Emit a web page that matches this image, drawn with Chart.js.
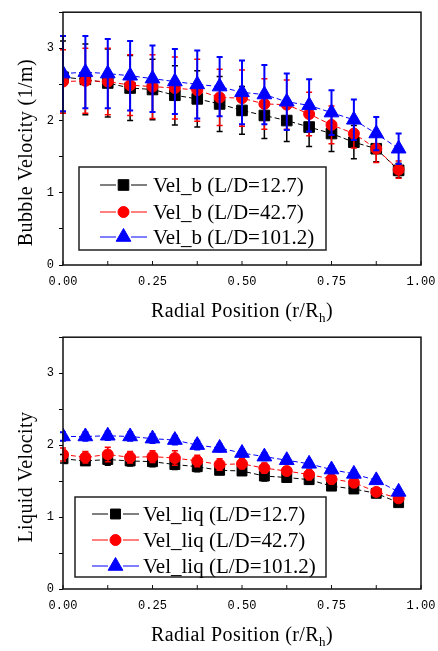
<!DOCTYPE html>
<html>
<head>
<meta charset="utf-8">
<script src="https://cdn.jsdelivr.net/npm/chart.js@4.4.1/dist/chart.umd.min.js"></script>
<style>
body { margin: 0; background: #fff; }
.box { position: relative; width: 438px; }
#top { height: 325px; }
#bot { height: 326px; }
</style>
</head>
<body>
<div class="box" id="top"><canvas id="bubble"></canvas></div>
<div class="box" id="bot"><canvas id="liquid"></canvas></div>
<script>
// radial positions r/Rh
var radialPos = [0, 0.0625, 0.125, 0.1875, 0.25, 0.3125, 0.375, 0.4375, 0.5, 0.5625, 0.625, 0.6875, 0.75, 0.8125, 0.875, 0.9375];
var ldCases = ["L/D=12.7", "L/D=42.7", "L/D=101.2"];
var xTickVals = [0, 0.25, 0.5, 0.75, 1];
var yTickVals = [0, 1, 2, 3];

// bubble velocity
var velB127 = [2.60, 2.57, 2.52, 2.45, 2.43, 2.35, 2.30, 2.23, 2.14, 2.07, 2.00, 1.91, 1.82, 1.70, 1.61, 1.31];
var errB127 = [0.50, 0.49, 0.47, 0.45, 0.42, 0.41, 0.39, 0.38, 0.33, 0.32, 0.29, 0.27, 0.25, 0.23, 0.18, 0.10];
var velB427 = [2.54, 2.55, 2.54, 2.49, 2.47, 2.45, 2.42, 2.32, 2.31, 2.23, 2.22, 2.09, 1.94, 1.82, 1.61, 1.32];
var errB427 = [0.44, 0.45, 0.46, 0.42, 0.44, 0.43, 0.43, 0.39, 0.39, 0.35, 0.34, 0.30, 0.26, 0.20, 0.19, 0.12];
var velB1012 = [2.65, 2.67, 2.65, 2.62, 2.58, 2.54, 2.50, 2.47, 2.39, 2.36, 2.26, 2.21, 2.11, 2.01, 1.82, 1.61];
var errB1012 = [0.52, 0.50, 0.48, 0.48, 0.46, 0.45, 0.47, 0.41, 0.44, 0.41, 0.39, 0.36, 0.31, 0.28, 0.23, 0.21];

// liquid velocity
var velL127 = [1.81, 1.78, 1.80, 1.78, 1.77, 1.73, 1.70, 1.65, 1.64, 1.57, 1.55, 1.52, 1.43, 1.39, 1.33, 1.20];
var errL127 = [0.06, 0.06, 0.08, 0.07, 0.07, 0.07, 0.07, 0.06, 0.06, 0.07, 0.06, 0.06, 0.05, 0.05, 0.05, 0.04];
var velL427 = [1.87, 1.83, 1.87, 1.83, 1.84, 1.82, 1.78, 1.73, 1.74, 1.68, 1.64, 1.59, 1.53, 1.48, 1.35, 1.26];
var errL427 = [0.09, 0.08, 0.10, 0.08, 0.08, 0.10, 0.08, 0.08, 0.07, 0.07, 0.06, 0.07, 0.07, 0.07, 0.05, 0.05];
var velL1012 = [2.12, 2.12, 2.13, 2.12, 2.09, 2.07, 2.00, 1.96, 1.89, 1.84, 1.79, 1.74, 1.66, 1.60, 1.51, 1.35];
var errL1012 = [0.06, 0.06, 0.06, 0.06, 0.06, 0.06, 0.06, 0.05, 0.05, 0.05, 0.05, 0.05, 0.05, 0.05, 0.04, 0.04];

var serif = "'Liberation Serif', 'Times New Roman', serif";

function pts(vals) {
    return vals.map(function (v, i) { return { x: radialPos[i], y: v }; });
}

function isMajor(v, list) {
    return list.some(function (m) { return Math.abs(m - v) < 1e-9; });
}

//error bars under each dataset's own markers
var errorBars = {
    id: 'errorBars',
    beforeDatasetDraw: function (chart, args) {
        var ds = chart.data.datasets[args.index];
        if (!ds.errors) return;
        var ctx = chart.ctx, xs = chart.scales.x, ys = chart.scales.y;
        ctx.save();
        ctx.strokeStyle = ds.borderColor;
        ctx.lineWidth = ds.errWidth;
        ds.data.forEach(function (p, i) {
            var px = xs.getPixelForValue(p.x);
            var top = ys.getPixelForValue(p.y + ds.errors[i]);
            var bot = ys.getPixelForValue(p.y - ds.errors[i]);
            ctx.beginPath();
            ctx.moveTo(px, top); ctx.lineTo(px, bot);
            ctx.moveTo(px - 3, top); ctx.lineTo(px + 3, top);
            ctx.moveTo(px - 3, bot); ctx.lineTo(px + 3, bot);
            ctx.stroke();
        });
        ctx.restore();
    }
};

// frame, inward x ticks, titles, boxed legend
var decor = {
    id: 'decor',
    afterDraw: function (chart) {
        var o = chart.options.plugins.decor;
        var ctx = chart.ctx, a = chart.chartArea, xs = chart.scales.x;
        ctx.save();
        ctx.strokeStyle = '#111';
        ctx.lineWidth = 1.5;
        ctx.strokeRect(a.left, a.top, a.right - a.left, a.bottom - a.top);

        ctx.lineWidth = 1;
        xs.ticks.forEach(function (t) {
            var px = xs.getPixelForValue(t.value);
            ctx.beginPath();
            ctx.moveTo(px, a.bottom); ctx.lineTo(px, a.bottom - 4);
            ctx.stroke();
        });

        ctx.fillStyle = '#000';
        ctx.textBaseline = 'alphabetic';
        ctx.letterSpacing = '0.4px';
        // x title with subscript
        ctx.font = '20px ' + serif;
        var t1 = 'Radial Position (r/R', t3 = ')';
        var w1 = ctx.measureText(t1).width, w3 = ctx.measureText(t3).width;
        ctx.font = '13px ' + serif;
        var w2 = ctx.measureText('h').width;
        var sx = (a.left + a.right) / 2 - (w1 + w2 + w3) / 2;
        var by = a.bottom + 52;
        ctx.font = '20px ' + serif;
        ctx.textAlign = 'left';
        ctx.fillText(t1, sx, by);
        ctx.font = '13px ' + serif;
        ctx.fillText('h', sx + w1, by + 5);
        ctx.font = '20px ' + serif;
        ctx.fillText(t3, sx + w1 + w2, by);

        // y title
        ctx.save();
        ctx.translate(27, (a.top + a.bottom) / 2 + 14);
        ctx.rotate(-Math.PI / 2);
        ctx.textAlign = 'center';
        ctx.textBaseline = 'middle';
        ctx.fillText(o.yTitle, 0, 0);
        ctx.restore();

        // legend box
        ctx.letterSpacing = '0px';
        var L = o.legend;
        ctx.lineWidth = 1.5;
        ctx.strokeStyle = '#222';
        ctx.strokeRect(L.x, L.y, L.w, L.h);
        var order = [2, 1, 0];
        order.forEach(function (di, row) {
            var ds = chart.data.datasets[di];
            var cy = L.rows[row];
            var lx = L.lineX;
            ctx.strokeStyle = ds.borderColor;
            ctx.lineWidth = 1;
            ctx.beginPath();
            ctx.moveTo(lx, cy); ctx.lineTo(lx + 16, cy);
            ctx.moveTo(lx + 31, cy); ctx.lineTo(lx + 47, cy);
            ctx.stroke();
            ctx.fillStyle = ds.borderColor;
            Chart.helpers.drawPoint(ctx, {
                pointStyle: ds.pointStyle, radius: ds.legendRadius, borderWidth: 1, rotation: 0
            }, lx + 23.5, cy);
            ctx.fillStyle = '#000';
            ctx.font = '21px ' + serif;
            ctx.textAlign = 'left';
            ctx.textBaseline = 'middle';
            ctx.fillText(ds.label, L.textX, cy + 1);
        });
        ctx.restore();
    }
};

function makeChart(id, name, vals, errs, yTitle, legendBox, padTop, xHeight, sizes) {
    var colors = ['#000000', '#ff0000', '#0000ff'];
    var shapes = ['rect', 'circle', 'triangle'];
    var datasets = [2, 1, 0].map(function (k) {
        return {
            label: name + ' (' + ldCases[k] + ')',
            data: pts(vals[k]),
            errors: errs[k],
            errWidth: k === 2 ? 2 : 1.5,
            borderColor: colors[k],
            backgroundColor: colors[k],
            pointBackgroundColor: colors[k],
            pointBorderColor: colors[k],
            pointStyle: shapes[k],
            pointRadius: sizes[k],
            legendRadius: sizes[k],
            pointBorderWidth: 1,
            borderWidth: 1,
            borderDash: [5, 3],
            showLine: true,
            fill: false,
            tension: 0
        };
    });
    return new Chart(document.getElementById(id), {
        type: 'scatter',
        data: { datasets: datasets },
        options: {
            responsive: true,
            maintainAspectRatio: false,
            animation: false,
            layout: { padding: { left: 0, right: 17, top: padTop, bottom: 0 } },
            scales: {
                x: {
                    type: 'linear',
                    min: 0, max: 1,
                    afterFit: function (s) { s.height = xHeight; },
                    border: { display: false },
                    grid: { display: false },
                    ticks: {
                        stepSize: 0.125,
                        autoSkip: false,
                        maxRotation: 0,
                        padding: 2,
                        color: '#000',
                        font: { family: "'Liberation Mono', monospace", size: 12 },
                        callback: function (v) { return isMajor(v, xTickVals) ? v.toFixed(2) : ''; }
                    }
                },
                y: {
                    min: 0, max: 3.5,
                    afterFit: function (s) { s.width = 63; },
                    border: { display: false },
                    grid: { display: true, drawOnChartArea: false, drawTicks: true, tickLength: 4, color: '#000' },
                    ticks: {
                        stepSize: 0.5,
                        padding: 5,
                        color: '#000',
                        font: { family: "'Liberation Mono', monospace", size: 12 },
                        callback: function (v) { return isMajor(v, yTickVals) ? String(v) : ''; }
                    }
                }
            },
            plugins: {
                legend: { display: false },
                tooltip: { enabled: false },
                decor: { yTitle: yTitle, legend: legendBox }
            }
        },
        plugins: [errorBars, decor]
    });
}

makeChart('bubble', 'Vel_b',
    [velB127, velB427, velB1012], [errB127, errB427, errB1012],
    'Bubble Velocity (1/m)',
    { x: 79, y: 167, w: 247, h: 83, rows: [185, 212, 237], lineX: 100, textX: 153 },
    4, 60, [7.5, 5.5, 8.5]);

makeChart('liquid', 'Vel_liq',
    [velL127, velL427, velL1012], [errL127, errL427, errL1012],
    'Liquid Velocity',
    { x: 75, y: 172, w: 251, h: 80, rows: [189, 215, 241], lineX: 92, textX: 143 },
    5, 62, [7, 5.5, 8.5]);
</script>
</body>
</html>
